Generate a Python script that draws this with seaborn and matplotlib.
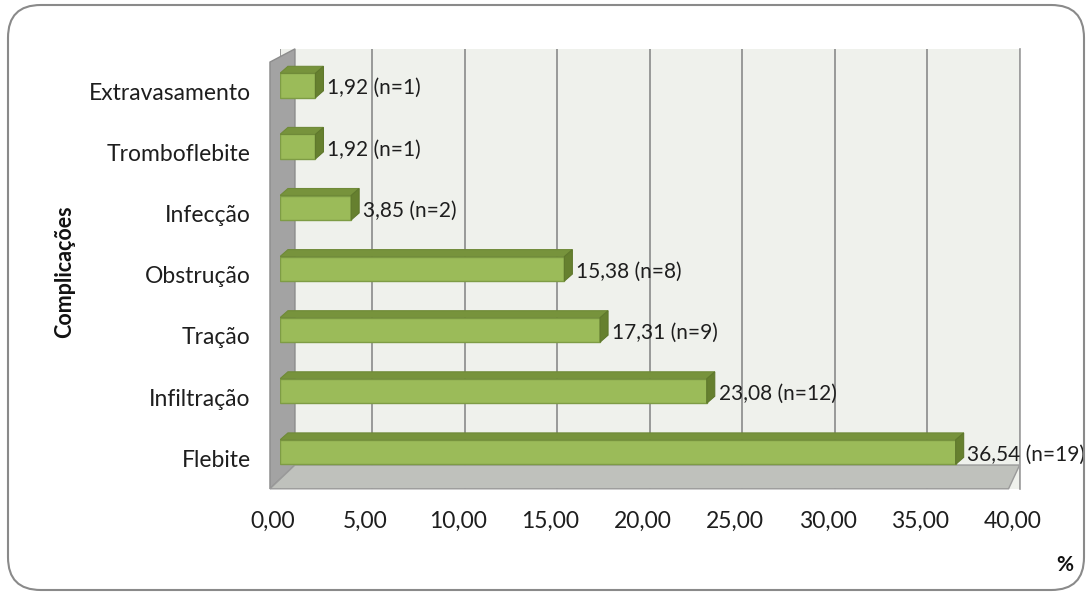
import matplotlib
matplotlib.use("Agg")
import matplotlib.pyplot as plt
import matplotlib.transforms as mtransforms
import seaborn as sns
import pandas as pd
from matplotlib.patches import Polygon, FancyBboxPatch

categories = ["Extravasamento", "Tromboflebite", "Infecção", "Obstrução", "Tração", "Infiltração", "Flebite"]
values = [1.92, 1.92, 3.85, 15.38, 17.31, 23.08, 36.54]
counts = [1, 1, 2, 8, 9, 12, 19]
xticks = [0, 5, 10, 15, 20, 25, 30, 35, 40]

sns.set_theme(style="white")
plt.rcParams['font.family'] = ['Lato', 'DejaVu Sans']

FS = 16.5
TXT = "#1E1E1E"

df = pd.DataFrame({"cat": categories, "val": values})

fig = plt.figure(figsize=(10.91, 5.99), dpi=100)
ax = fig.add_axes([0.2566, 0.184, 0.678, 0.7344])
ax.set_facecolor("#EFF1EC")

sns.barplot(data=df, x="val", y="cat", orient="h", color="#9BBB59", saturation=1,
            width=0.4, edgecolor="#7E9C45", linewidth=1, ax=ax, zorder=3)

ax.set_xlim(0, 40)
ax.set_ylim(6.6, -0.6)
ax.set_xticks(xticks)
ax.set_xticklabels([f"{t:.2f}".replace(".", ",") for t in xticks], fontsize=FS, color=TXT)
ax.tick_params(axis="x", pad=10, length=6, width=1.2, color="#8C8C8C", direction="out")
ax.tick_params(axis="y", which="major", pad=21, length=0, labelsize=FS, labelcolor=TXT)
ax.set_yticks([i + 0.5 for i in range(-1, 7)], minor=True)
ax.tick_params(axis="y", which="minor", length=7, width=1.2, color="#8C8C8C", direction="out", pad=0)
offy = mtransforms.ScaledTranslation(0, -8 / 100, fig.dpi_scale_trans)
for lbl in ax.get_yticklabels():
    lbl.set_va("center")
    lbl.set_transform(lbl.get_transform() + offy)
# front axis sits slightly left of the back wall (3D perspective)
offx = mtransforms.ScaledTranslation(-7 / 100, 0, fig.dpi_scale_trans)
for t in ax.xaxis.get_major_ticks():
    t.label1.set_transform(t.label1.get_transform() + offx)
    t.tick1line.set_transform(t.tick1line.get_transform() + offx)
ax.grid(axis="x", color="#8A8A8A", linewidth=1.2, zorder=1)
ax.grid(axis="y", visible=False)
for s in ax.spines.values():
    s.set_visible(False)
ax.spines["right"].set_visible(True)
ax.spines["right"].set_color("#A0A0A0")

# 3D-style faces derived from each bar
dx = 8 * 40 / 740.0
dy = 7 * 7.2 / 440.0
for p in list(ax.patches):
    x0, y0 = p.get_x(), p.get_y()
    w, h = p.get_width(), p.get_height()
    x1 = x0 + w
    yt = y0
    yb = y0 + h
    top = Polygon([(x0, yt), (x0 + dx, yt - dy), (x1 + dx, yt - dy), (x1, yt)], closed=True,
                  facecolor="#77933C", edgecolor="#6F8A38", linewidth=0.8, zorder=4)
    side = Polygon([(x1, yb), (x1 + dx, yb - dy), (x1 + dx, yt - dy), (x1, yt)], closed=True,
                   facecolor="#66802F", edgecolor="#5F782C", linewidth=0.8, zorder=4)
    ax.add_patch(top)
    ax.add_patch(side)

# data labels
for i, (v, n) in enumerate(zip(values, counts)):
    ax.annotate(f"{v:.2f}".replace(".", ",") + f" (n={n})", xy=(v, i), xytext=(8.5, -2),
                textcoords="offset points", va="center", ha="left", fontsize=15, color=TXT,
                zorder=5)

# wall and floor decoration (axes fraction)
wall = Polygon([(-0.0135, 0.0), (-0.0135, 0.97), (0.0203, 1.0), (0.0203, 0.054)], closed=True,
               transform=ax.transAxes, facecolor="#A3A3A3", edgecolor="#8C8C8C", linewidth=1,
               clip_on=False, zorder=2)
floor = Polygon([(-0.0135, 0.0), (0.0203, 0.054), (1.0, 0.054), (0.985, 0.0)], closed=True,
                transform=ax.transAxes, facecolor="#BFC1BC", edgecolor="#9A9A9A", linewidth=1,
                clip_on=False, zorder=2.1)
ax.add_patch(wall)
ax.add_patch(floor)

ax.set_xlabel("")
ax.set_ylabel("")
fig.text(65 / 1091, 1 - 272 / 599, "Complicações", rotation=90, ha="center", va="center",
         fontsize=15.5, fontweight="bold", color="#111111")
fig.text(1065 / 1091, 1 - 565 / 599, "%", ha="center", va="center", fontsize=15,
         fontweight="bold", color="#111111")

border = FancyBboxPatch((8 / 1091, 9 / 599), 1076 / 1091, 585 / 599,
                        boxstyle="round,pad=0,rounding_size=0.03", transform=fig.transFigure,
                        facecolor="none", edgecolor="#8A8A8A", linewidth=1.5,
                        mutation_aspect=1091 / 599)
fig.patches.append(border)

fig.savefig("out.png", dpi=100)
